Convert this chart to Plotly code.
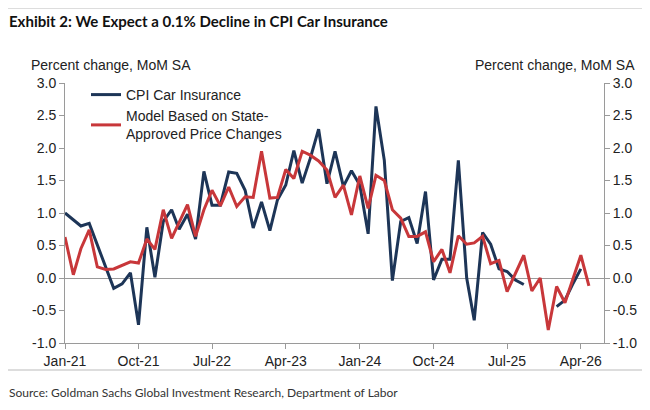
import plotly.graph_objects as go
import pandas as pd

months = pd.date_range("2021-01-01", "2026-05-01", freq="MS")

cpi_car_insurance = [
    1.00, 0.90, 0.80, 0.84, 0.50, 0.15, -0.16, -0.09, 0.08, -0.72, 0.78, 0.01,
    0.87, 1.05, 0.75, 0.98, 0.60, 1.64, 1.12, 1.12, 1.63, 1.61, 1.35, 0.77,
    1.17, 0.73, 1.20, 1.43, 1.96, 1.46, 1.84, 2.29, 1.45, 1.95, 1.41, 1.65,
    1.43, 0.68, 2.64, 1.81, -0.04, 0.87, 0.93, 0.53, 1.33, -0.03, 0.29, 0.29,
    1.81, 0.00, -0.65, 0.70, 0.52, 0.14, 0.10, -0.03, -0.10, None, None, None,
    -0.44, -0.34, -0.10, 0.14, None,
]

model_state_approved = [
    0.63, 0.05, 0.45, 0.74, 0.17, 0.13, 0.14, 0.20, 0.25, 0.23, 0.60, 0.44,
    1.05, 0.61, 0.87, 1.13, 0.64, 1.05, 1.35, 1.11, 1.40, 1.10, 1.25, 1.24,
    1.95, 1.23, 1.24, 1.67, 1.53, 1.95, 1.89, 1.80, 1.66, 1.24, 1.43, 0.97,
    1.57, 1.07, 1.58, 1.50, 1.05, 0.92, 0.64, 0.64, 0.71, 0.25, 0.44, 0.08,
    0.65, 0.52, 0.54, 0.64, 0.22, 0.27, -0.21, 0.07, 0.35, -0.20, 0.00, -0.80,
    -0.13, -0.38, -0.02, 0.35, -0.12,
]

y_ticks = [-1.0, -0.5, 0.0, 0.5, 1.0, 1.5, 2.0, 2.5, 3.0]

NAVY = "#1d3557"
RED = "#c8373a"
GREY = "#9a9a9a"
FONT = "Liberation Sans, Arial, sans-serif"

# the page body has an 8px margin, so the figure is drawn 8px smaller
OFF = 8
W, H = 650 - OFF, 410 - OFF
# plot area in page pixels
L, R, T, B = 65, 604, 83, 343


def px(x):
    return (x - L) / (R - L)


def py(y):
    return (B - y) / (B - T)


fig = go.Figure()
fig.add_trace(go.Scatter(
    x=months, y=cpi_car_insurance, mode="lines", name="CPI Car Insurance",
    line=dict(color=NAVY, width=3), connectgaps=False,
))
fig.add_trace(go.Scatter(
    x=months, y=model_state_approved, mode="lines",
    name="Model Based on State-<br>Approved Price Changes",
    line=dict(color=RED, width=3), yaxis="y2",
))

axis_common = dict(
    range=[-1.0, 3.0], tickvals=y_ticks, ticktext=[f"{v:.1f}" for v in y_ticks],
    showgrid=False, showline=True, linecolor=GREY, linewidth=1,
    ticks="outside", ticklen=5, tickcolor=GREY,
    tickfont=dict(family=FONT, size=14, color="#222"),
)

fig.update_layout(
    width=W, height=H,
    margin=dict(l=L - OFF, r=650 - R, t=T - OFF, b=410 - B),
    paper_bgcolor="white", plot_bgcolor="white",
    showlegend=True,
    legend=dict(
        x=px(86), y=py(79), xanchor="left", yanchor="top",
        font=dict(family=FONT, size=14, color="#222"),
        bgcolor="rgba(0,0,0,0)", tracegroupgap=6, itemwidth=30,
    ),
    xaxis=dict(
        type="date", range=["2021-01-01", "2026-06-26"],
        tick0="2021-01-01", dtick="M9", tickformat="%b-%y",
        showgrid=False, showline=True, linecolor=GREY, linewidth=1,
        ticks="outside", ticklen=5, tickcolor=GREY, zeroline=False,
        tickfont=dict(family=FONT, size=14, color="#222"),
    ),
    yaxis=dict(**axis_common, zeroline=True, zerolinecolor=GREY, zerolinewidth=1),
    yaxis2=dict(**axis_common, overlaying="y", side="right", zeroline=False),
    annotations=[
        dict(text="<b>Exhibit 2: We Expect a 0.1% Decline in CPI Car Insurance</b>",
             xref="paper", yref="paper", x=px(7), y=py(21), xanchor="left",
             yanchor="middle", showarrow=False,
             font=dict(family="Lato, sans-serif", size=15, color="#111")),
        dict(text="Percent change, MoM SA", xref="paper", yref="paper",
             x=px(29), y=py(65), xanchor="left", yanchor="middle", showarrow=False,
             font=dict(family=FONT, size=14, color="#222")),
        dict(text="Percent change, MoM SA", xref="paper", yref="paper",
             x=px(637), y=py(65), xanchor="right", yanchor="middle", showarrow=False,
             font=dict(family=FONT, size=14, color="#222")),
        dict(text="Source: Goldman Sachs Global Investment Research, Department of Labor",
             xref="paper", yref="paper", x=px(7), y=py(392), xanchor="left",
             yanchor="middle", showarrow=False,
             font=dict(family="Lato, sans-serif", size=12, color="#333")),
    ],
    shapes=[
        dict(type="line", xref="paper", yref="paper", x0=px(0), x1=px(660),
             y0=py(8), y1=py(8), line=dict(color="#bbbbbb", width=1)),
        dict(type="line", xref="paper", yref="paper", x0=px(0), x1=px(660),
             y0=py(370), y1=py(370), line=dict(color="#bbbbbb", width=1)),
    ],
)

fig.write_html("out.html")
